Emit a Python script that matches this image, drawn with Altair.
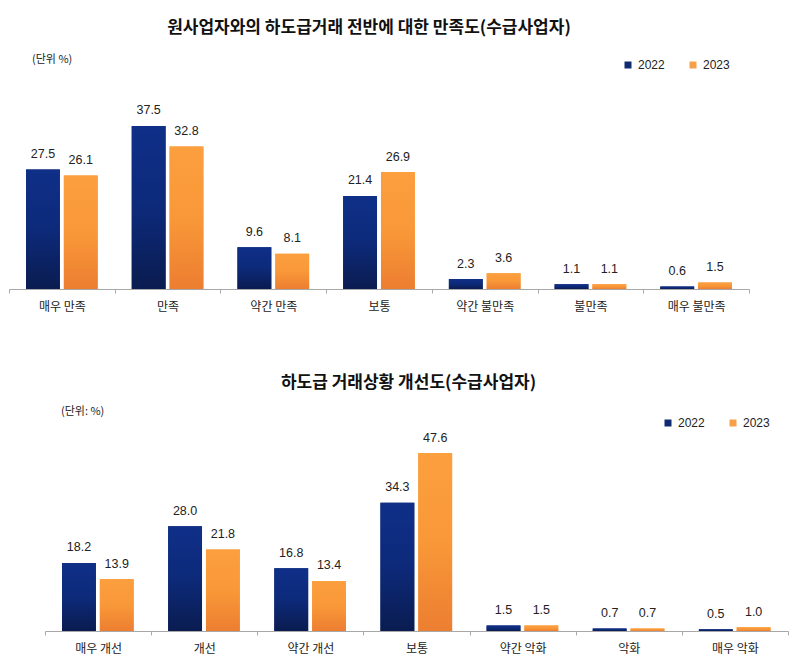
import altair as alt
import pandas as pd

# ---- data ----
years = ["2022", "2023"]
cats1 = ["매우 만족", "만족", "약간 만족", "보통", "약간 불만족", "불만족", "매우 불만족"]
v1_2022 = [27.5, 37.5, 9.6, 21.4, 2.3, 1.1, 0.6]
v1_2023 = [26.1, 32.8, 8.1, 26.9, 3.6, 1.1, 1.5]

cats2 = ["매우 개선", "개선", "약간 개선", "보통", "약간 악화", "악화", "매우 악화"]
v2_2022 = [18.2, 28.0, 16.8, 34.3, 1.5, 0.7, 0.5]
v2_2023 = [13.9, 21.8, 13.4, 47.6, 1.5, 0.7, 1.0]

title1 = "원사업자와의 하도급거래 전반에 대한 만족도(수급사업자)"
title2 = "하도급 거래상황 개선도(수급사업자)"
unit1 = "(단위 %)"
unit2 = "(단위: %)"

KR = "Noto Sans CJK KR"
NUM = "Liberation Sans"

blue_grad = alt.LinearGradient(
    gradient="linear", x1=0, x2=0, y1=0, y2=1,
    stops=[alt.GradientStop(color="#0f2f88", offset=0),
           alt.GradientStop(color="#0d2a7a", offset=0.5),
           alt.GradientStop(color="#0a1c50", offset=1)])
orange_grad = alt.LinearGradient(
    gradient="linear", x1=0, x2=0, y1=0, y2=1,
    stops=[alt.GradientStop(color="#fc9f3e", offset=0),
           alt.GradientStop(color="#f99838", offset=0.5),
           alt.GradientStop(color="#ec7e31", offset=1)])


def panel(cats, v22, v23, title, unit, W, H, ymax, t_offset, t_dx, unit_x, unit_y, leg_x, leg_y):
    rows = []
    for c, a, b in zip(cats, v22, v23):
        rows.append({"cat": c, "year": "2022", "value": a})
        rows.append({"cat": c, "year": "2023", "value": b})
    df = pd.DataFrame(rows)

    base = alt.Chart(df).encode(
        x=alt.X("cat:N", sort=cats, title=None,
                scale=alt.Scale(paddingInner=0, paddingOuter=0),
                axis=alt.Axis(labelAngle=0, labelFont=KR, labelFontSize=12,
                              labelColor="#222222", labelPadding=8,
                              domainColor="#a8a8a8", tickColor="#a8a8a8",
                              tickSize=4, tickBand="extent", grid=False)),
        xOffset=alt.XOffset("year:N", sort=years,
                            scale=alt.Scale(paddingInner=0.105, paddingOuter=0.45)),
        y=alt.Y("value:Q", scale=alt.Scale(domain=[0, ymax], nice=False), axis=None),
    )

    flat = base.mark_bar().encode(
        color=alt.Color("year:N", sort=years,
                        scale=alt.Scale(domain=years, range=["#0f2a70", "#f7a04a"]),
                        legend=alt.Legend(orient="none", legendX=leg_x, legendY=leg_y,
                                          direction="horizontal", title=None,
                                          symbolType="square", symbolSize=49,
                                          symbolStrokeWidth=0,
                                          labelFont=NUM, labelFontSize=12,
                                          labelColor="#222222", labelOffset=4,
                                          columnPadding=22, padding=0))
    )
    g22 = base.transform_filter(alt.datum.year == "2022").mark_bar(color=blue_grad)
    g23 = base.transform_filter(alt.datum.year == "2023").mark_bar(color=orange_grad)

    labels = base.mark_text(dy=-15.5, baseline="middle", font=NUM, fontSize=12.5,
                            color="#222222").encode(
        text=alt.Text("value:Q", format=".1f"))

    unit_txt = alt.Chart(pd.DataFrame({"t": [unit]})).mark_text(
        align="left", baseline="middle", font=KR, fontSize=11, color="#222222"
    ).encode(x=alt.value(unit_x), y=alt.value(unit_y), text="t:N")

    return alt.layer(flat, g22, g23, labels, unit_txt).properties(
        width=W, height=H,
        title=alt.TitleParams(title, font=KR, fontSize=17, fontWeight="bold",
                              color="#111111", anchor="middle", frame="group",
                              baseline="alphabetic", offset=t_offset, dx=t_dx),
    )


top = panel(cats1, v1_2022, v1_2023, title1, unit1,
            W=740, H=243, ymax=243 / 4.347, t_offset=-4, t_dx=-10,
            unit_x=23, unit_y=14, leg_x=613, leg_y=13)

bottom = panel(cats2, v2_2022, v2_2023, title2, unit2,
               W=743, H=233, ymax=233 / 3.739, t_offset=-7, t_dx=-8,
               unit_x=16, unit_y=14, leg_x=617, leg_y=19)

spacer = alt.Chart(pd.DataFrame({"a": [0]})).mark_point(opacity=0, size=1).encode(
    x=alt.value(17), y=alt.value(100)).properties(width=35, height=233)

row2 = alt.hconcat(spacer, bottom, spacing=0).resolve_scale(
    color="independent").resolve_legend(color="independent")

chart = alt.vconcat(top, row2, spacing=62).resolve_scale(
    color="independent").resolve_legend(color="independent").properties(
    padding={"left": 0, "top": 11, "right": 0, "bottom": 0},
    background="white"
).configure_view(stroke="transparent", strokeWidth=0)

chart.save("out.html", embed_options={"renderer": "svg", "actions": False})
